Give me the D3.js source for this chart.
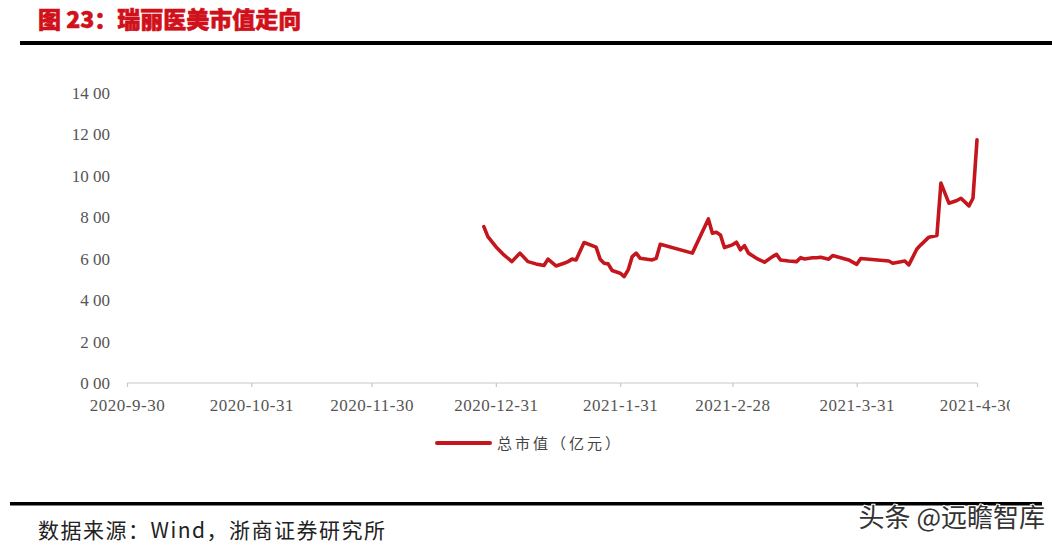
<!DOCTYPE html>
<html><head><meta charset="utf-8">
<script src="https://cdn.jsdelivr.net/npm/d3@7"></script>
<style>
html,body{margin:0;padding:0;background:#fff;}
svg{display:block;}
</style></head>
<body>
<svg id="c" width="1052" height="548"></svg>
<script>
const dates = ["2020-12-28","2020-12-29","2020-12-31","2021-01-02","2021-01-04","2021-01-06","2021-01-08","2021-01-10","2021-01-12","2021-01-13","2021-01-15","2021-01-17","2021-01-18","2021-01-19","2021-01-20","2021-01-22","2021-01-25","2021-01-26","2021-01-27","2021-01-28","2021-01-29","2021-01-31","2021-02-01","2021-02-02","2021-02-03","2021-02-04","2021-02-05","2021-02-08","2021-02-09","2021-02-10","2021-02-18","2021-02-22","2021-02-23","2021-02-24","2021-02-25","2021-02-26","2021-02-28","2021-03-01","2021-03-02","2021-03-03","2021-03-04","2021-03-06","2021-03-08","2021-03-10","2021-03-11","2021-03-12","2021-03-14","2021-03-16","2021-03-17","2021-03-18","2021-03-20","2021-03-21","2021-03-22","2021-03-24","2021-03-25","2021-03-27","2021-03-29","2021-03-31","2021-04-01","2021-04-08","2021-04-09","2021-04-12","2021-04-13","2021-04-15","2021-04-16","2021-04-18","2021-04-20","2021-04-21","2021-04-23","2021-04-25","2021-04-26","2021-04-28","2021-04-29","2021-04-30"];
const totalValue = [7.55,7.07,6.58,6.18,5.86,6.27,5.86,5.75,5.67,5.98,5.65,5.78,5.86,5.98,5.94,6.78,6.56,5.98,5.78,5.75,5.43,5.30,5.14,5.46,6.10,6.27,6.02,5.94,6.02,6.70,6.27,7.92,7.23,7.28,7.15,6.54,6.67,6.80,6.43,6.63,6.27,6.02,5.83,6.10,6.21,5.94,5.89,5.86,6.05,5.99,6.05,6.05,6.07,5.98,6.15,6.05,5.94,5.73,6.01,5.89,5.78,5.89,5.70,6.47,6.67,7.04,7.12,9.65,8.68,8.81,8.92,8.55,8.92,11.74];
const xTickDates = ["2020-09-30","2020-10-31","2020-11-30","2020-12-31","2021-01-31","2021-02-28","2021-03-31","2021-04-30"];
const xTickLabels = ["2020-9-30","2020-10-31","2020-11-30","2020-12-31","2021-1-31","2021-2-28","2021-3-31","2021-4-30"];
const yTickValues = [0,2,4,6,8,10,12,14];
const yTickLabels = ["0 00","2 00","4 00","6 00","8 00","10 00","12 00","14 00"];
const seriesName = "总市值（亿元）";
const titleText = "图 23：瑞丽医美市值走向";
const sourceText = "数据来源：Wind，浙商证券研究所";
const watermark = "头条 @远瞻智库";

const parse = d3.timeParse("%Y-%m-%d");
const data = dates.map((d,i)=>({date:parse(d), v:totalValue[i]}));
const svg = d3.select("#c");

const x = d3.scaleTime().domain([parse(xTickDates[0]), parse(xTickDates[xTickDates.length-1])]).range([127,977]);
const y = d3.scaleLinear().domain([0,14]).range([383,93]);

// title
svg.append("text").attr("x",38).attr("y",28).attr("fill","#d0101a")
  .attr("font-family","'Noto Sans CJK SC'").attr("font-weight",900).attr("font-size",23)
  .attr("stroke","#d0101a").attr("stroke-width",0.6)
  .text(titleText);
svg.append("rect").attr("x",20).attr("y",41).attr("width",1032).attr("height",4).attr("fill","#000");

// y axis labels
const yAxis = d3.axisLeft(y).tickValues(yTickValues).tickFormat((d,i)=>yTickLabels[i]).tickSize(0).tickPadding(0);
const gy = svg.append("g").attr("transform","translate(110,0)").call(yAxis);
gy.select(".domain").remove();
gy.selectAll("text").attr("font-family","'Liberation Serif'").attr("font-size",17).attr("fill","#555");

// x axis
svg.append("defs").append("clipPath").attr("id","clipx").append("rect").attr("x",0).attr("y",-5).attr("width",1010).attr("height",45);
const xAxis = d3.axisBottom(x).tickValues(xTickDates.map(parse)).tickFormat((d,i)=>xTickLabels[i]).tickSize(4).tickPadding(12);
const gx = svg.append("g").attr("transform","translate(0,383)").attr("clip-path","url(#clipx)").call(xAxis);
gx.select(".domain").attr("stroke","#c8c8c8").attr("stroke-width",1.2).attr("d","M127,0H977");
gx.selectAll(".tick line").attr("stroke","#c8c8c8").attr("stroke-width",1.2);
gx.selectAll("text").attr("font-family","'Liberation Serif'").attr("font-size",17).attr("letter-spacing",0.5).attr("fill","#555");

// line
const line = d3.line().x(d=>x(d.date)).y(d=>y(d.v));
svg.append("path").datum(data).attr("d",line).attr("fill","none").attr("stroke","#c4161c")
  .attr("stroke-width",3.6).attr("stroke-linejoin","round").attr("stroke-linecap","round");

// legend
svg.append("line").attr("x1",437).attr("x2",490).attr("y1",443).attr("y2",443)
  .attr("stroke","#c4161c").attr("stroke-width",4).attr("stroke-linecap","round");
svg.append("text").attr("x",497).attr("y",449).attr("fill","#444")
  .attr("font-family","'Noto Sans CJK SC'").attr("font-size",15).attr("letter-spacing",3)
  .text(seriesName);

// bottom rule and source
svg.append("rect").attr("x",10).attr("y",502).attr("width",1032).attr("height",3.5).attr("fill","#000");
svg.append("text").attr("x",38).attr("y",538).attr("fill","#222")
  .attr("font-family","'Noto Sans CJK SC'").attr("font-size",21).attr("letter-spacing",1.5)
  .text(sourceText);
svg.append("text").attr("x",1045).attr("y",527).attr("text-anchor","end").attr("fill","#333")
  .attr("font-family","'Noto Sans CJK SC'").attr("font-size",26)
  .attr("stroke","#fff").attr("stroke-width",2).attr("paint-order","stroke")
  .text(watermark);
</script>
</body></html>
